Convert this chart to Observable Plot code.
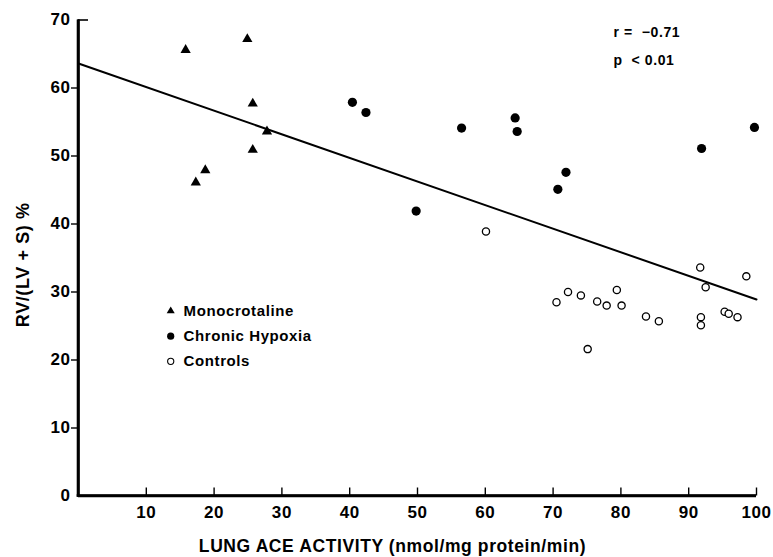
<!DOCTYPE html>
<html>
<head>
<meta charset="utf-8">
<script src="https://cdn.jsdelivr.net/npm/d3@7"></script>
<script src="https://cdn.jsdelivr.net/npm/@observablehq/plot@0.6"></script>
<style>
  html, body { margin: 0; padding: 0; background: #fff; }
  #chart svg text { letter-spacing: 0.6px; }
</style>
</head>
<body>
<div id="chart"></div>
<script>
// Monocrotaline (filled triangles)
const monoX = [15.8, 24.9, 25.7, 27.8, 25.7, 18.7, 17.3];
const monoY = [65.6, 67.2, 57.7, 53.6, 50.9, 47.9, 46.1];
// Chronic Hypoxia (filled circles)
const hypoX = [40.4, 42.4, 56.5, 64.4, 64.7, 71.9, 70.7, 49.8, 91.9, 99.7];
const hypoY = [57.9, 56.4, 54.1, 55.6, 53.6, 47.6, 45.1, 41.9, 51.1, 54.2];
// Controls (open circles)
const ctrlX = [60.1, 91.7, 98.5, 92.5, 70.5, 72.2, 74.1, 76.5, 77.9, 79.4, 80.1, 83.7, 85.6, 91.8, 91.8, 95.3, 95.9, 97.2, 75.1];
const ctrlY = [38.9, 33.6, 32.3, 30.7, 28.5, 30.0, 29.5, 28.6, 28.0, 30.3, 28.0, 26.4, 25.7, 26.3, 25.1, 27.1, 26.8, 26.3, 21.6];
// Regression line end points
const fitX = [0, 100];
const fitY = [63.6, 28.9];
// Axis ticks
const xTicks = [10, 20, 30, 40, 50, 60, 70, 80, 90, 100];
const yTicks = [0, 10, 20, 30, 40, 50, 60, 70];
// Legend
const legendLabels = ["Monocrotaline", "Chronic Hypoxia", "Controls"];
const legendY = [27.2, 23.5, 19.8];
const legendSymX = 13.6;
const legendTextX = 15.5;
// Stats annotation
const statLines = ["r =  \u22120.71", "p  < 0.01"];
const statY = [68.2, 64.0];
const statX = 78.9;

const xLabel = "LUNG ACE ACTIVITY (nmol/mg protein/min)";
const yLabel = "RV/(LV + S) %";
const yLabelAt = 34.0;

const mono = monoX.map((x, i) => ({x, y: monoY[i]}));
const hypo = hypoX.map((x, i) => ({x, y: hypoY[i]}));
const ctrl = ctrlX.map((x, i) => ({x, y: ctrlY[i]}));
const fit = fitX.map((x, i) => ({x, y: fitY[i]}));
const legend = legendLabels.map((label, i) => ({label, y: legendY[i], i}));
const stats = statLines.map((t, i) => ({t, y: statY[i]}));

const xDomain = [0, 100];
const yDomain = [0, 70];
// thin filled bars along the two axes (half-thickness in data units)
const hx = 0.19, hy = 0.19;
const axisBars = [
  {x1: xDomain[0] - hx, x2: xDomain[0] + hx, y1: yDomain[0] - hy, y2: yDomain[1]},
  {x1: xDomain[0] - hx, x2: xDomain[1], y1: yDomain[0] - hy, y2: yDomain[0] + hy}
];

const font = "'Liberation Sans', Arial, Helvetica, sans-serif";

const chart = Plot.plot({
  width: 773,
  height: 557,
  marginLeft: 78,
  marginRight: 17,
  marginTop: 19.5,
  marginBottom: 61.5,
  x: {domain: xDomain, label: null},
  y: {domain: yDomain, label: null},
  style: {fontFamily: font, background: "#fff", color: "#000"},
  marks: [
    // axis lines
    Plot.ruleX([xDomain[0]], {stroke: "#000", strokeWidth: 2.6}),
    Plot.ruleY([yDomain[0]], {stroke: "#000", strokeWidth: 2.6}),
    Plot.rect(axisBars, {x1: "x1", x2: "x2", y1: "y1", y2: "y2", fill: "#000"}),
    // x axis: inward ticks, then labels
    Plot.axisX({ticks: xTicks, tickSize: -8, text: null, label: null, strokeWidth: 1.4}),
    Plot.axisX({ticks: xTicks, tickSize: 0, tickPadding: 10, label: null, fontSize: 17, fontWeight: "bold"}),
    // y axis: outward ticks (top tick inward), then labels
    Plot.axisY({ticks: yTicks.filter(v => v > 0 && v < 70), tickSize: 7, text: null, label: null, strokeWidth: 1.4}),
    Plot.axisY({ticks: yTicks.filter(v => v === 70), tickSize: -10, text: null, label: null, strokeWidth: 1.6}),
    Plot.axisY({ticks: yTicks, tickSize: 0, tickPadding: 8, label: null, fontSize: 17, fontWeight: "bold"}),
    // regression line
    Plot.line(fit, {x: "x", y: "y", stroke: "#000", strokeWidth: 2}),
    // data
    Plot.dot(ctrl, {x: "x", y: "y", r: 3.6, stroke: "#000", strokeWidth: 1.3, fill: "#fff"}),
    Plot.dot(hypo, {x: "x", y: "y", r: 4.6, fill: "#000", stroke: "none"}),
    Plot.dot(mono, {x: "x", y: "y", r: 3.8, symbol: "triangle", fill: "#000", stroke: "none"}),
    // legend
    Plot.dot(legend.filter(d => d.i === 0), {x: legendSymX, y: "y", r: 3.0, symbol: "triangle", fill: "#000", stroke: "none"}),
    Plot.dot(legend.filter(d => d.i === 1), {x: legendSymX, y: "y", r: 3.6, fill: "#000", stroke: "none"}),
    Plot.dot(legend.filter(d => d.i === 2), {x: legendSymX, y: "y", r: 3.1, fill: "#fff", stroke: "#000", strokeWidth: 1.1}),
    Plot.text(legend, {x: legendTextX, y: "y", text: "label", textAnchor: "start", lineAnchor: "middle", fontSize: 15, fontWeight: "bold", fill: "#000"}),
    // stats
    Plot.text(stats, {x: statX, y: "y", text: "t", textAnchor: "start", lineAnchor: "middle", fontSize: 14, fontWeight: "bold", fill: "#000"}),
    // axis titles
    Plot.text([yLabel], {y: yLabelAt, text: d => d, frameAnchor: "left", dx: -55, rotate: -90, textAnchor: "middle", lineAnchor: "middle", fontSize: 18, fontWeight: "bold", fill: "#000"}),
    Plot.text([xLabel], {text: d => d, frameAnchor: "bottom", dx: -25, dy: 50, lineAnchor: "middle", fontSize: 17.5, fontWeight: "bold", fill: "#000"})
  ]
});

document.getElementById("chart").appendChild(chart);
</script>
</body>
</html>
